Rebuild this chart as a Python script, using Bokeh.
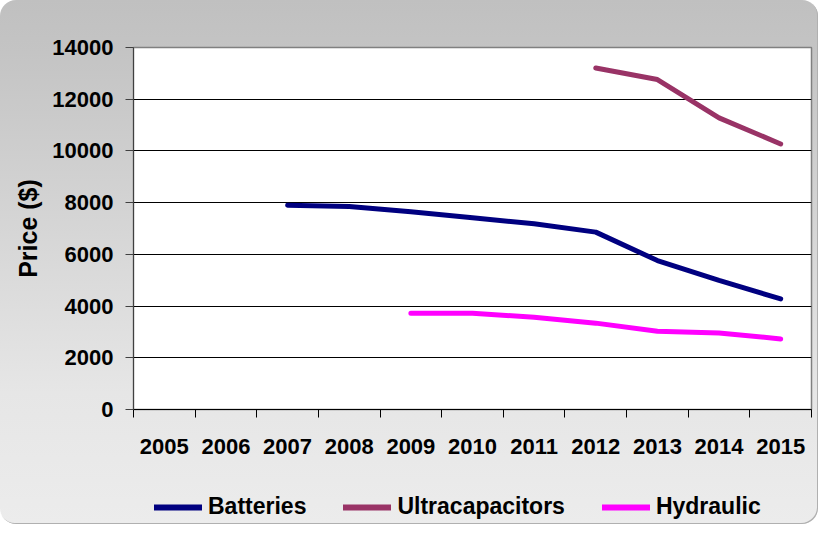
from bokeh.plotting import figure
from bokeh.layouts import column
from bokeh.models import FixedTicker, Legend, LegendItem, Range1d
from bokeh.embed import file_html
from bokeh.resources import INLINE

# ---- data ----
years = ["2005", "2006", "2007", "2008", "2009", "2010", "2011", "2012", "2013", "2014", "2015"]
batt_years = ["2007", "2008", "2009", "2010", "2011", "2012", "2013", "2014", "2015"]
batteries = [7900, 7850, 7650, 7420, 7180, 6860, 5760, 4990, 4280]
ultra_years = ["2012", "2013", "2014", "2015"]
ultracapacitors = [13210, 12760, 11280, 10270]
hyd_years = ["2009", "2010", "2011", "2012", "2013", "2014", "2015"]
hydraulic = [3720, 3720, 3570, 3340, 3030, 2960, 2730]
y_ticks = [0, 2000, 4000, 6000, 8000, 10000, 12000, 14000]
series_names = ["Batteries", "Ultracapacitors", "Hydraulic"]
series_colors = ["#000080", "#993366", "#FF00FF"]

pos = {y: i + 0.5 for i, y in enumerate(years)}
series = [([pos[y] for y in batt_years], batteries),
          ([pos[y] for y in ultra_years], ultracapacitors),
          ([pos[y] for y in hyd_years], hydraulic)]
FONT = "Liberation Sans"
LW = 5

p = figure(width=818, height=470, output_backend="svg", toolbar_location=None,
           x_range=Range1d(0, len(years)), y_range=Range1d(0, 14000),
           min_border_left=133, min_border_right=7, min_border_top=47, min_border_bottom=61)

p.border_fill_color = None
p.background_fill_color = "white"
p.outline_line_color = "#808080"
p.outline_line_width = 1.5

for (xs, ys), col in zip(series, series_colors):
    p.line(xs, ys, line_color=col, line_width=LW, line_cap="round", line_join="round")

# x axis: labels at category centres, ticks at category boundaries
xa = p.xaxis[0]
xa.ticker = FixedTicker(ticks=[pos[y] for y in years], minor_ticks=list(range(len(years) + 1)))
xa.major_label_overrides = {pos[y]: y for y in years}
xa.major_tick_out = 0
xa.major_tick_in = 0
xa.minor_tick_out = 8
xa.minor_tick_in = 0
xa.minor_tick_line_color = "black"
xa.axis_line_color = "black"
xa.major_label_standoff = 21
xa.major_label_text_font = FONT
xa.major_label_text_font_style = "bold"
xa.major_label_text_font_size = "22px"
xa.major_label_text_color = "black"

# y axis
ya = p.yaxis[0]
ya.ticker = FixedTicker(ticks=y_ticks)
ya.major_tick_out = 8
ya.major_tick_in = 0
ya.minor_tick_line_color = None
ya.major_tick_line_color = "#404040"
ya.axis_line_color = "#404040"
ya.major_label_standoff = 12
ya.major_label_text_font = FONT
ya.major_label_text_font_style = "bold"
ya.major_label_text_font_size = "22px"
ya.major_label_text_color = "black"
ya.axis_label = "Price ($)"
ya.axis_label_text_font = FONT
ya.axis_label_text_font_style = "bold"
ya.axis_label_text_font_size = "25px"
ya.axis_label_text_color = "black"
ya.axis_label_standoff = 7

p.xgrid.visible = False
p.ygrid.ticker = FixedTicker(ticks=y_ticks)
p.ygrid.grid_line_color = "black"
p.ygrid.grid_line_width = 1

# legend strip (same series, drawn outside its visible range; only the legend shows)
lg = figure(width=818, height=54, output_backend="svg", toolbar_location=None,
            x_range=Range1d(0, 1), y_range=Range1d(0, 1), x_axis_type=None, y_axis_type=None,
            min_border_left=0, min_border_right=0, min_border_top=0, min_border_bottom=0)
lg.border_fill_color = None
lg.background_fill_color = None
lg.outline_line_color = None
lg.xgrid.visible = False
lg.ygrid.visible = False
items = []
for name, col, (xs, ys) in zip(series_names, series_colors, series):
    r = lg.line(xs, ys, line_color=col, line_width=LW + 1, line_cap="round")
    items.append(LegendItem(label=name, renderers=[r]))

legend = Legend(items=items, orientation="horizontal", location=(21, 4),
                glyph_width=48, glyph_height=24, label_standoff=6, spacing=37,
                padding=0, margin=0, border_line_color=None, background_fill_alpha=0,
                label_text_font=FONT, label_text_font_style="bold", label_text_font_size="23px",
                label_text_color="black")
lg.add_layout(legend, "center")

layout = column(p, lg, spacing=0)
layout.styles = {"background": "linear-gradient(#c0c0c0, #c4c4c4 10%, #e6e6e6 75%, #ececec)",
                 "border-radius": "16px",
                 "box-shadow": "inset -1px -1px 0 #b0b0b0"}

open("out.html", "w").write(file_html(layout, INLINE))
